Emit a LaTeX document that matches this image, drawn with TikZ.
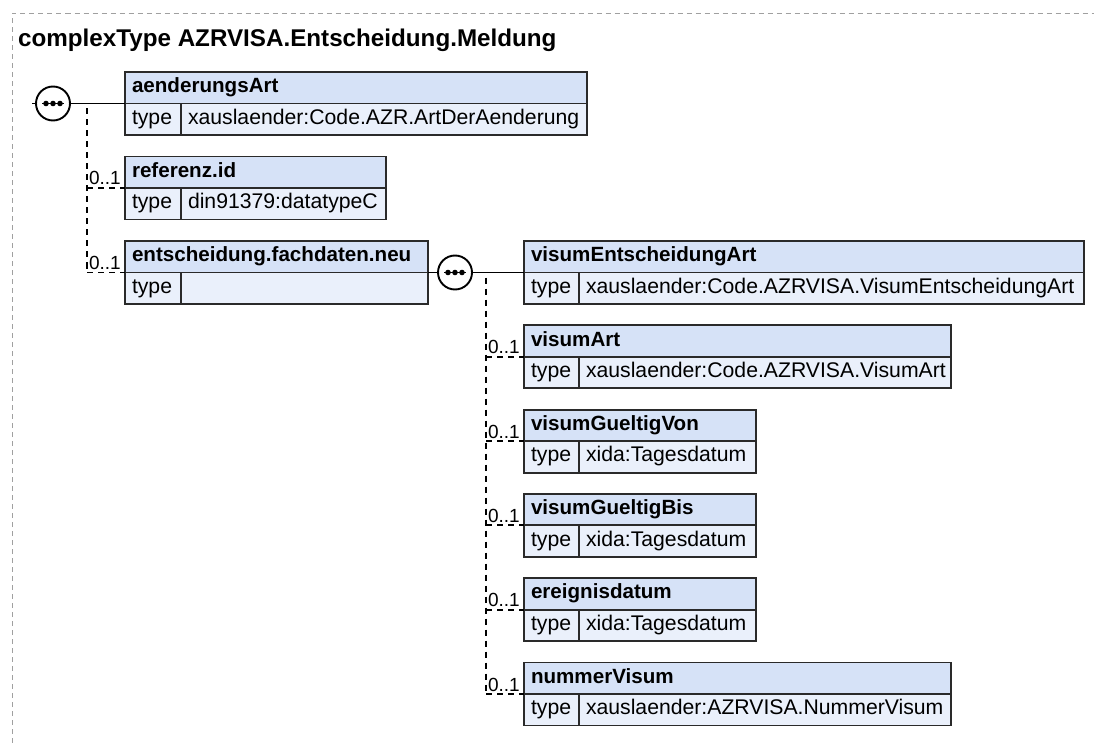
\documentclass[tikz,border=0pt]{standalone}
\usepackage{fontspec}
\setmainfont{Liberation Sans}
\newcommand\bxfont{\fontsize{20.6}{24}\selectfont}
\newcommand\rgfont{\fontsize{21.2}{24}\selectfont}
\newcommand\ttlfont{\fontsize{24.2}{28}\selectfont\bfseries}
\newcommand\occfont{\fontsize{19}{22}\selectfont}
\definecolor{hdrfill}{HTML}{D6E2F7}
\definecolor{rowfill}{HTML}{EAF0FB}
\definecolor{boxline}{HTML}{2A2A2A}
\definecolor{framegray}{HTML}{A0A0A0}
\tikzset{
  base/.style={draw=boxline, line width=1.9pt, anchor=north west, inner xsep=7pt, inner ysep=0pt,
    outer sep=0pt, minimum height=31.5pt, text height=15pt, text depth=5pt, align=left},
  hdr/.style={base, fill=hdrfill, font=\bxfont\bfseries},
  cell/.style={base, fill=rowfill, font=\rgfont},
  seqc/.style={circle, draw=black, fill=white, line width=1.9pt, minimum size=34pt, inner sep=0pt, outer sep=0pt},
  conn/.style={line width=1.9pt, draw=black},
  opt/.style={line width=1.9pt, draw=black, dash pattern=on 6pt off 5pt},
  occ/.style={anchor=base east, font=\occfont, inner sep=0pt},
  frame/.style={draw=framegray, line width=1pt, dash pattern=on 5pt off 4pt}
}
\begin{document}
\begin{tikzpicture}[x=1pt,y=-1pt]
\useasboundingbox (0,0) rectangle (1094,743);
% outer frame
\coordinate (fbl) at (12,743);
\coordinate (ftl) at (12,13.5);
\coordinate (ftr) at (1094,13.5);
\draw[frame] (fbl) -- (ftl) -- (ftr);
% title
\node[anchor=base west, font=\ttlfont, inner sep=0pt] (title) at (18,47) {complexType AZRVISA.Entscheidung.Meldung};

% ---------- left column ----------
% aenderungsArt
\node[hdr, text width=448pt] (a1) at (125,72) {aenderungsArt};
\node[cell, text width=42pt] (a1t) at (a1.south west) {type};
\node[cell, text width=392pt] (a1v) at (a1t.north east) {xauslaender:Code.AZR.ArtDerAenderung};
% referenz.id
\node[hdr, text width=247pt] (a2) at (125,156.5) {referenz.id};
\node[cell, text width=42pt] (a2t) at (a2.south west) {type};
\node[cell, text width=191pt] (a2v) at (a2t.north east) {din91379:datatypeC};
% entscheidung.fachdaten.neu
\node[hdr, text width=289pt] (a3) at (125,241) {entscheidung.fachdaten.neu};
\node[cell, text width=42pt] (a3t) at (a3.south west) {type};
\node[cell, text width=233pt] (a3v) at (a3t.north east) {};

% sequence 1
\node[seqc] (seq1) at (53,103.5) {};
\draw[line width=1.9pt] ([xshift=-11pt]seq1.center) -- ([xshift=11pt]seq1.center);
\foreach \dx in {-7,0,7} \fill ([xshift=\dx pt]seq1.center) circle (2.8pt);
\coordinate (in1) at (32,103.5);
\draw[conn] (in1) -- (seq1.west);
\draw[conn] (seq1.east) -- (a1.south west);
\coordinate (bus1) at (87,103.5);
\draw[opt, dash phase=6pt] (bus1) -- (bus1 |- a3.south west);
\draw[opt] (bus1 |- a2.south west) -- (a2.south west);
\draw[opt] (bus1 |- a3.south west) -- (a3.south west);
\node[occ] (o2) at ([xshift=-4pt,yshift=3pt]a2.south west) {0..1};
\node[occ] (o3) at ([xshift=-4pt,yshift=3pt]a3.south west) {0..1};

% ---------- right column ----------
\node[hdr, text width=546pt] (b1) at (524,241) {visumEntscheidungArt};
\node[cell, text width=41pt] (b1t) at (b1.south west) {type};
\node[cell, text width=491pt] (b1v) at (b1t.north east) {xauslaender:Code.AZRVISA.VisumEntscheidungArt};

\node[hdr, text width=413pt] (b2) at (524,325.3) {visumArt};
\node[cell, text width=41pt] (b2t) at (b2.south west) {type};
\node[cell, text width=358pt] (b2v) at (b2t.north east) {xauslaender:Code.AZRVISA.VisumArt};

\node[hdr, text width=218pt] (b3) at (524,409.6) {visumGueltigVon};
\node[cell, text width=41pt] (b3t) at (b3.south west) {type};
\node[cell, text width=163pt] (b3v) at (b3t.north east) {xida:Tagesdatum};

\node[hdr, text width=218pt] (b4) at (524,493.9) {visumGueltigBis};
\node[cell, text width=41pt] (b4t) at (b4.south west) {type};
\node[cell, text width=163pt] (b4v) at (b4t.north east) {xida:Tagesdatum};

\node[hdr, text width=218pt] (b5) at (524,578.2) {ereignisdatum};
\node[cell, text width=41pt] (b5t) at (b5.south west) {type};
\node[cell, text width=163pt] (b5v) at (b5t.north east) {xida:Tagesdatum};

\node[hdr, text width=413pt] (b6) at (524,662.5) {nummerVisum};
\node[cell, text width=41pt] (b6t) at (b6.south west) {type};
\node[cell, text width=358pt] (b6v) at (b6t.north east) {xauslaender:AZRVISA.NummerVisum};

% sequence 2
\node[seqc] (seq2) at (455,272.5) {};
\draw[line width=1.9pt] ([xshift=-11pt]seq2.center) -- ([xshift=11pt]seq2.center);
\foreach \dx in {-7,0,7} \fill ([xshift=\dx pt]seq2.center) circle (2.8pt);
\draw[conn] (a3.south east) -- (seq2.west);
\draw[conn] (seq2.east) -- (b1.south west);
\coordinate (bus2) at (486,272.5);
\draw[opt, dash phase=6pt] (bus2) -- (bus2 |- b6.south west);
\foreach \n in {b2,b3,b4,b5,b6}{
  \draw[opt] (bus2 |- \n.south west) -- (\n.south west);
  \node[occ] (o\n) at ([xshift=-4pt,yshift=3pt]\n.south west) {0..1};
}
\end{tikzpicture}
\end{document}
